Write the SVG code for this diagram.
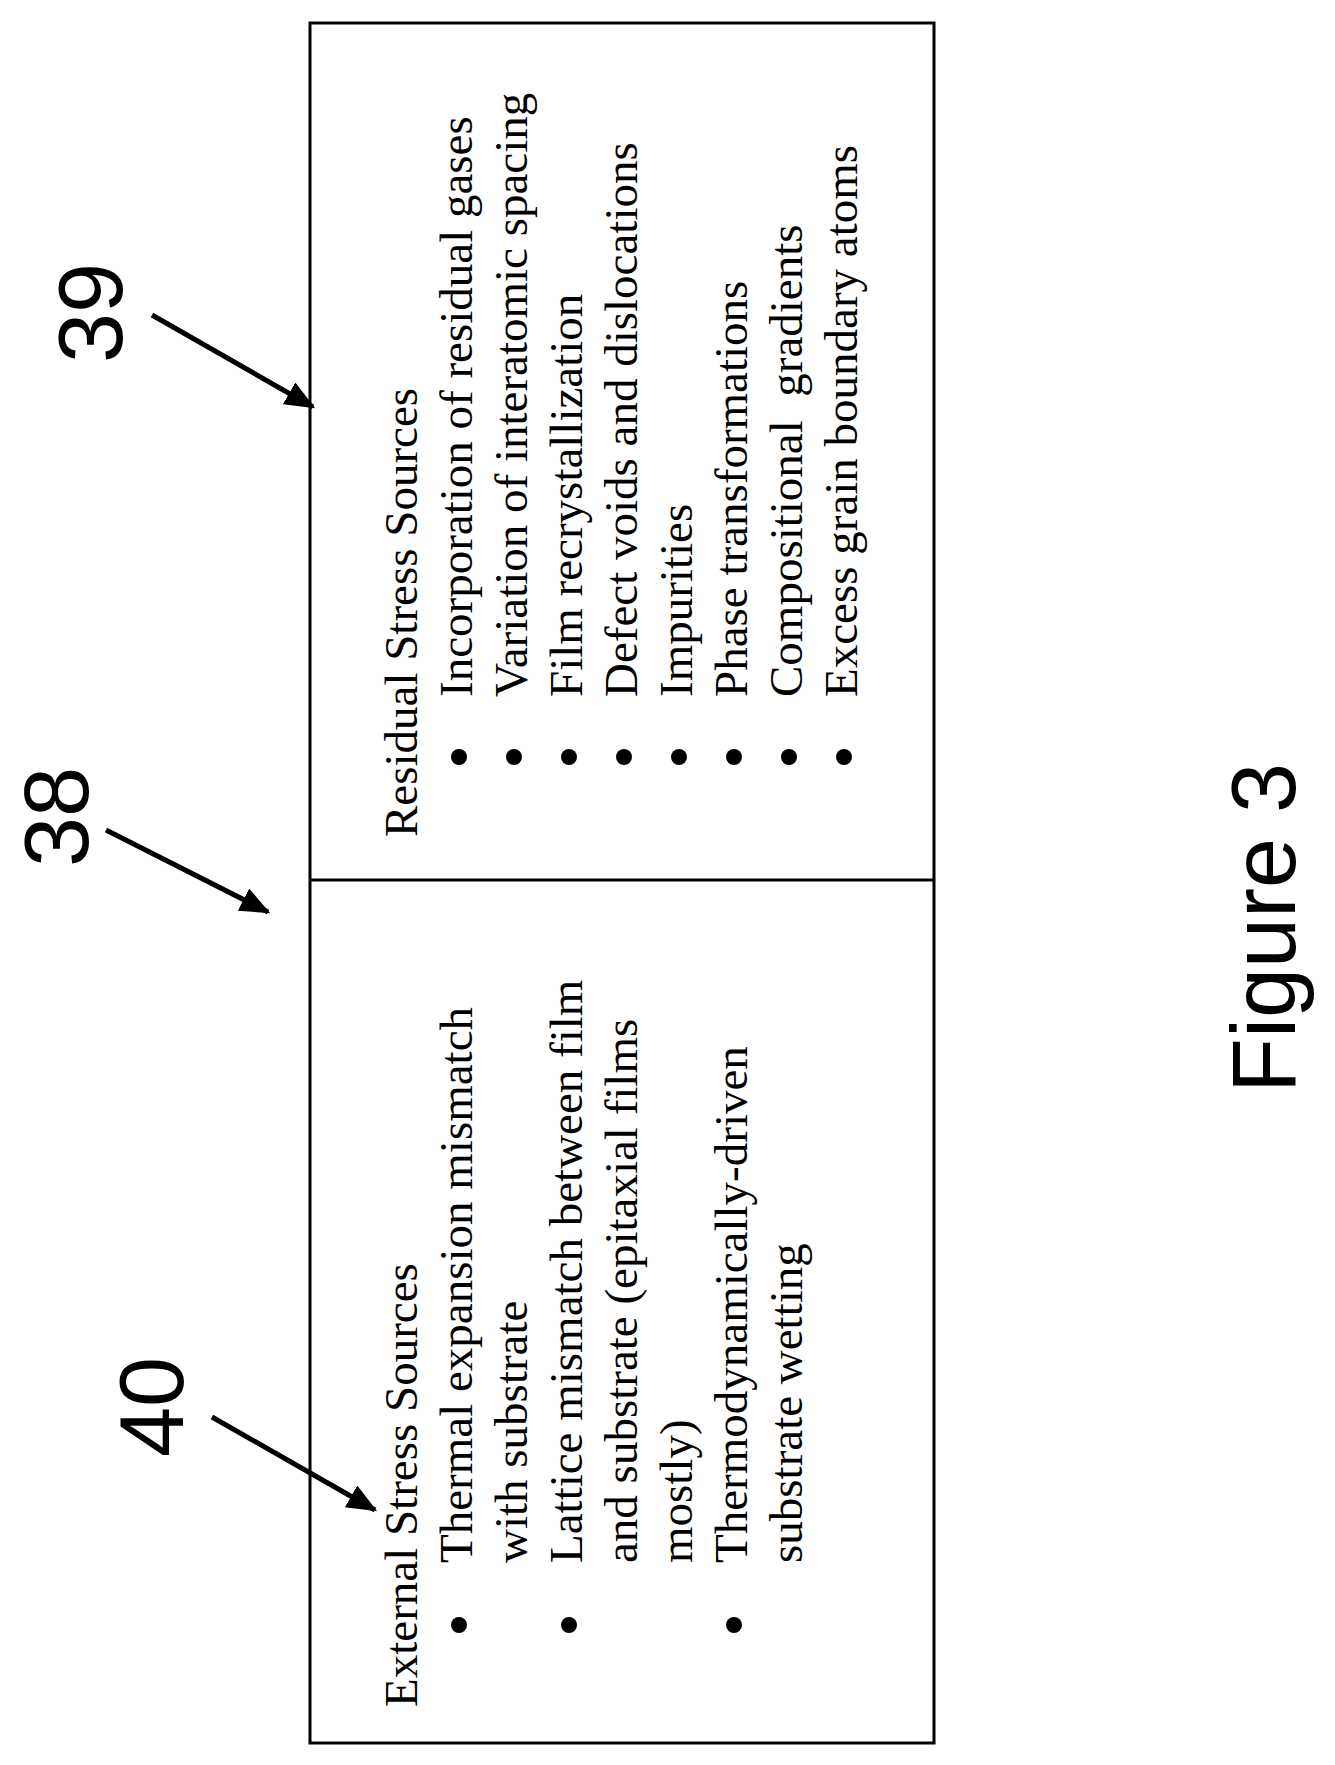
<svg xmlns="http://www.w3.org/2000/svg" width="1335" height="1765" viewBox="0 0 1335 1765">
<style>
.t{font-family:"Liberation Serif","Times New Roman",serif;font-size:47px;fill:#000}
.n{font-family:"Liberation Sans",Arial,sans-serif;font-size:90px;fill:#000}
.box{fill:none;stroke:#000;stroke-width:3}
.ar{stroke:#000;stroke-width:5;fill:none;marker-end:url(#ah)}
</style>
<defs>
<marker id="ah" markerWidth="6" markerHeight="5" refX="5.5" refY="2.5" orient="auto" markerUnits="strokeWidth">
<path d="M0,0 L6,2.5 L0,5 Z" fill="#000"/>
</marker>
</defs>
<rect width="1335" height="1765" fill="#fff"/>
<g id="box">
<rect class="box" x="310" y="23" width="624" height="1720"/>
<line class="box" x1="310" y1="880" x2="934" y2="880"/>
</g>
<g id="residual">
<text class="t" transform="translate(417,837) rotate(-90)">Residual Stress Sources</text>
<text class="t" transform="translate(472,697) rotate(-90)">Incorporation of residual gases</text>
<text class="t" transform="translate(527,697) rotate(-90)">Variation of interatomic spacing</text>
<text class="t" transform="translate(582,697) rotate(-90)">Film recrystallization</text>
<text class="t" transform="translate(637,697) rotate(-90)">Defect voids and dislocations</text>
<text class="t" transform="translate(692,697) rotate(-90)">Impurities</text>
<text class="t" transform="translate(747,697) rotate(-90)">Phase transformations</text>
<text class="t" transform="translate(802,697) rotate(-90)" xml:space="preserve">Compositional  gradients</text>
<text class="t" transform="translate(857,697) rotate(-90)">Excess grain boundary atoms</text>
<circle cx="459" cy="757" r="8"/><circle cx="514" cy="757" r="8"/><circle cx="569" cy="757" r="8"/><circle cx="624" cy="757" r="8"/>
<circle cx="679" cy="757" r="8"/><circle cx="734" cy="757" r="8"/><circle cx="789" cy="757" r="8"/><circle cx="844" cy="757" r="8"/>
</g>
<g id="external">
<text class="t" transform="translate(417,1707) rotate(-90)">External Stress Sources</text>
<text class="t" transform="translate(472,1563) rotate(-90)">Thermal expansion mismatch</text>
<text class="t" transform="translate(527,1563) rotate(-90)">with substrate</text>
<text class="t" transform="translate(582,1563) rotate(-90)">Lattice mismatch between film</text>
<text class="t" transform="translate(637,1563) rotate(-90)">and substrate (epitaxial films</text>
<text class="t" transform="translate(692,1563) rotate(-90)">mostly)</text>
<text class="t" transform="translate(747,1563) rotate(-90)">Thermodynamically-driven</text>
<text class="t" transform="translate(802,1563) rotate(-90)">substrate wetting</text>
<circle cx="459" cy="1625" r="8"/><circle cx="569" cy="1625" r="8"/><circle cx="734" cy="1625" r="8"/>
</g>
<g id="label39"><text class="n" transform="translate(122,363) rotate(-90)">39</text></g>
<g id="label38"><text class="n" transform="translate(88,867) rotate(-90)">38</text></g>
<g id="label40"><text class="n" transform="translate(183,1457) rotate(-90)">40</text></g>
<g id="caption"><text class="n" transform="translate(1295,1093) rotate(-90)">Figure 3</text></g>
<g id="connectors">
<line class="ar" x1="152" y1="315" x2="313" y2="407"/>
<line class="ar" x1="106" y1="830" x2="268" y2="912"/>
<line class="ar" x1="212" y1="1417" x2="375" y2="1510"/>
</g>
</svg>
